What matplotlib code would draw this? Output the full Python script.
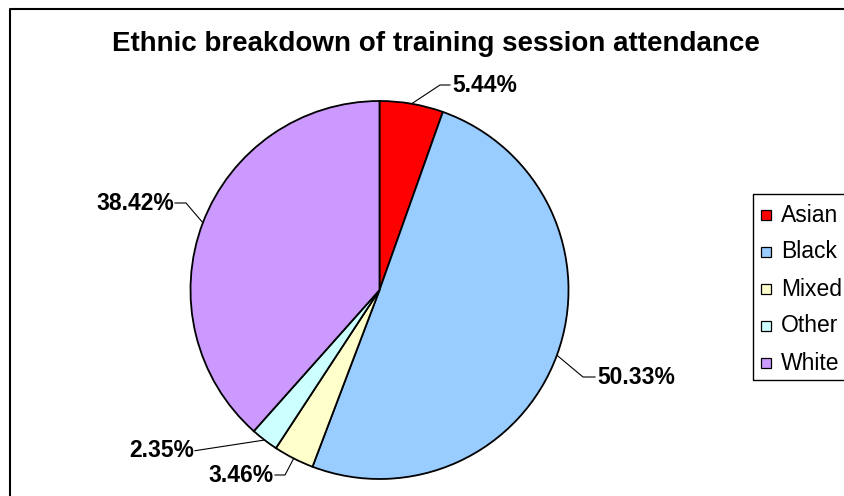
import numpy as np
import matplotlib
matplotlib.use('Agg')
import matplotlib.pyplot as plt
from matplotlib.patches import Rectangle

plt.rcParams['font.family'] = ['Liberation Sans', 'DejaVu Sans']

# data
categories = ['Asian', 'Black', 'Mixed', 'Other', 'White']
percentages = [5.44, 50.33, 3.46, 2.35, 38.42]
colors = ['#FF0000', '#99CCFF', '#FFFFCC', '#CCFFFF', '#CC99FF']

W, H = 844, 496
fig = plt.figure(figsize=(W / 100, H / 100), dpi=100)
ax = fig.add_axes([0, 0, 1, 1])


def py(y):
    # pixel y from top -> axes y
    return H - y


cx, cy, r = 379.5, py(290), 189
wedges, _ = ax.pie(percentages, colors=colors, startangle=90, counterclock=False,
                   center=(cx, cy), radius=r,
                   wedgeprops=dict(edgecolor='black', linewidth=1.3))

# pie() resets the limits, so set the pixel frame afterwards
ax.set_xlim(0, W)
ax.set_ylim(0, H)
ax.set_aspect('equal')
ax.axis('off')

# outer chart border (runs off the right and bottom edges)
ax.plot([10, 10, W + 5], [-5, py(9), py(9)], color='black', linewidth=1.5)

ax.text(436, py(44), 'Ethnic breakdown of training session attendance',
        ha='center', va='center', fontsize=20, fontweight='bold')

# leader line elbows and label anchors (pixel coords from top-left)
elbows = [(440, 85), (583, 377), (285, 475), (195, 450.7), (186, 203)]
ends = [(450, 85), (595, 377), (275, 475), (195, 450.7), (175, 203)]
ha = ['left', 'left', 'right', 'right', 'right']

start = 90.0
for i, p in enumerate(percentages):
    mid = np.deg2rad(start - p * 3.6 / 2)
    start -= p * 3.6
    ex, ey = cx + r * np.cos(mid), cy + r * np.sin(mid)
    bx, by = elbows[i]
    tx, ty = ends[i]
    ax.plot([ex, bx, tx], [ey, py(by), py(ty)], color='black', linewidth=0.8)
    off = 2 if ha[i] == 'left' else -1
    ax.text(tx + off, py(ty), f'{p:.2f}%', ha=ha[i], va='center',
            fontsize=16.5, fontweight='bold')

# legend box (open on the right, cut by the chart edge)
ax.plot([W + 5, 752.5, 752.5, W + 5], [py(194), py(194), py(380), py(380)],
        color='black', linewidth=1.0)
for i, (name, c) in enumerate(zip(categories, colors)):
    yy = py(215 + i * 37)
    ax.add_patch(Rectangle((760.5, yy - 5), 10, 10, facecolor=c,
                           edgecolor='black', linewidth=0.9))
    ax.text(781, yy, name, ha='left', va='center', fontsize=16.5)

fig.savefig('out.png', dpi=100)
